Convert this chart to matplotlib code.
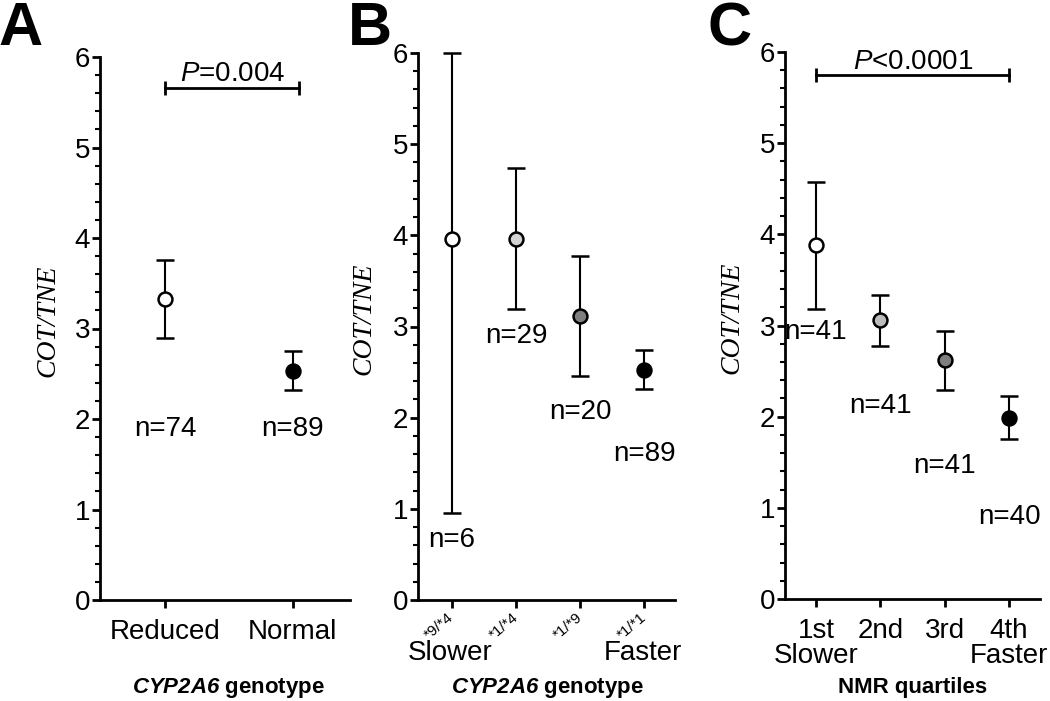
import matplotlib
matplotlib.use("Agg")
import matplotlib.pyplot as plt
from matplotlib.ticker import MultipleLocator

plt.rcParams['font.family'] = ['Liberation Sans', 'DejaVu Sans']
plt.rcParams['mathtext.fontset'] = 'custom'
plt.rcParams['mathtext.rm'] = 'Liberation Sans'
plt.rcParams['mathtext.it'] = 'Liberation Sans:italic'
plt.rcParams['mathtext.bf'] = 'Liberation Sans:bold'
plt.rcParams['mathtext.bfit'] = 'Liberation Sans:bold:italic'

# panel A
a_cats = ["Reduced", "Normal"]
a_mean = [3.33, 2.53]
a_low = [2.90, 2.32]
a_high = [3.76, 2.75]
a_n = ["n=74", "n=89"]
a_ny = [1.89, 1.89]
a_colors = ["white", "black"]

# panel B
b_cats = ["*9/*4", "*1/*4", "*1/*9", "*1/*1"]
b_mean = [3.96, 3.96, 3.12, 2.52]
b_low = [0.95, 3.19, 2.46, 2.31]
b_high = [6.0, 4.74, 3.77, 2.74]
b_n = ["n=6", "n=29", "n=20", "n=89"]
b_ny = [0.66, 2.90, 2.06, 1.60]
b_colors = ["white", "#d3d3d3", "#7f7f7f", "black"]

# panel C
c_cats = ["1st\nSlower", "2nd", "3rd", "4th\nFaster"]
c_mean = [3.88, 3.06, 2.62, 1.98]
c_low = [3.18, 2.77, 2.29, 1.75]
c_high = [4.57, 3.33, 2.94, 2.23]
c_n = ["n=41", "n=41", "n=41", "n=40"]
c_ny = [2.93, 2.12, 1.46, 0.90]
c_colors = ["white", "#bdbdbd", "#7f7f7f", "black"]

W, H = 1050, 701
FS = 20
fig = plt.figure(figsize=(W / 100, H / 100), dpi=100)


def px_axes(x0, x1, y0, y1):
    return fig.add_axes([x0 / W, 1 - y1 / H, (x1 - x0) / W, (y1 - y0) / H])


def style(ax, xlim):
    for s in ["top", "right"]:
        ax.spines[s].set_visible(False)
    for s in ["left", "bottom"]:
        ax.spines[s].set_linewidth(2)
    ax.set_ylim(0, 6)
    ax.set_xlim(*xlim)
    ax.yaxis.set_major_locator(MultipleLocator(1))
    ax.yaxis.set_minor_locator(MultipleLocator(0.2))
    ax.tick_params(axis="y", which="major", length=6, width=2, labelsize=FS, pad=1)
    ax.tick_params(axis="y", which="minor", length=3.5, width=1.5)
    ax.tick_params(axis="x", which="major", length=6, width=2, labelsize=FS)
    ax.set_ylabel("COT/TNE", family="Liberation Serif", style="italic", fontsize=20)
    ax.yaxis.set_label_coords(-0.16, 0.515)


def points(ax, mean, low, high, colors):
    for i, m in enumerate(mean):
        ax.errorbar([i], [m], yerr=[[m - low[i]], [high[i] - m]], fmt="o",
                    color="black", ecolor="black", elinewidth=1.5, capsize=6.5,
                    capthick=1.5, markersize=10, markerfacecolor=colors[i],
                    markeredgecolor="black", markeredgewidth=1.8, clip_on=False,
                    zorder=3)


def pbar(ax, x0, x1, y, label, tx, ty):
    ax.plot([x0, x1], [y, y], color="black", lw=2)
    ax.plot([x0, x1], [y, y], ls="none", marker="|", markersize=10,
            markeredgewidth=2, color="black")
    ax.text(tx, ty, label, ha="center", va="center", fontsize=FS)


# A
axA = px_axes(100, 350, 57, 600)
style(axA, (-0.51, 1.45))
points(axA, a_mean, a_low, a_high, a_colors)
axA.set_xticks(range(len(a_cats)))
axA.set_xticklabels(a_cats)
axA.tick_params(axis="x", pad=8)
for i, t in enumerate(a_n):
    axA.text(i, a_ny[i], t, ha="center", va="center", fontsize=FS)
pbar(axA, 0, 1.05, 5.66, "$\\mathit{P}$=0.004", 0.53, 5.81)
fig.text(228 / W, 1 - 688 / H, "$\\mathbfit{CYP2A6}$ genotype", ha="center",
         va="center", fontsize=16, fontweight="bold")

# B
axB = px_axes(418, 675, 53, 600)
style(axB, (-0.53, 3.48))
points(axB, b_mean, b_low, b_high, b_colors)
axB.set_xticks(range(len(b_cats)))
axB.set_xticklabels(b_cats, rotation=40, ha="right", va="center",
                    rotation_mode="anchor", fontsize=11)
axB.tick_params(axis="x", pad=5)
for i, t in enumerate(b_n):
    axB.text(i, b_ny[i], t, ha="center", va="center", fontsize=FS)
fig.text(450 / W, 1 - 653 / H, "Slower", ha="center", va="center", fontsize=FS)
fig.text(643 / W, 1 - 653 / H, "Faster", ha="center", va="center", fontsize=FS)
fig.text(547 / W, 1 - 688 / H, "$\\mathbfit{CYP2A6}$ genotype", ha="center",
         va="center", fontsize=16, fontweight="bold")

# C
axC = px_axes(785, 1040, 52, 599)
style(axC, (-0.48, 3.48))
points(axC, c_mean, c_low, c_high, c_colors)
axC.set_xticks(range(len(c_cats)))
axC.set_xticklabels(c_cats, linespacing=0.95)
axC.tick_params(axis="x", pad=8)
for i, t in enumerate(c_n):
    axC.text(i, c_ny[i], t, ha="center", va="center", fontsize=FS)
pbar(axC, 0, 3, 5.75, "$\\mathit{P}$<0.0001", 1.51, 5.89)
fig.text(913 / W, 1 - 688 / H, "NMR quartiles", ha="center", va="center",
         fontsize=16, fontweight="bold")

# panel letters
for lbl, x in [("A", -2), ("B", 348), ("C", 708)]:
    fig.text(x / W, 1 - 1 / H, lbl, ha="left", va="top", fontsize=44,
             fontweight="bold")

fig.savefig("out.png", dpi=100)
